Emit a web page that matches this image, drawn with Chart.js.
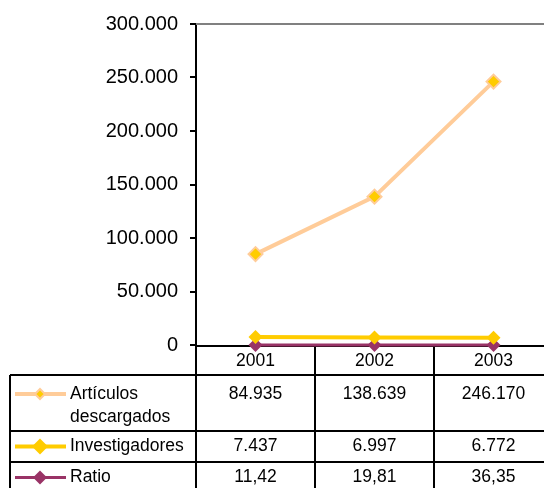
<!DOCTYPE html>
<html>
<head>
<meta charset="utf-8">
<script src="https://cdn.jsdelivr.net/npm/chart.js@4.4.1/dist/chart.umd.min.js"></script>
<style>
  html, body { margin: 0; padding: 0; background: #fff; overflow: hidden; }
</style>
</head>
<body>
<canvas id="chart" width="544" height="488"></canvas>
<script>
// Datos
const categories = ['2001', '2002', '2003'];
const articulos = [84935, 138639, 246170];
const investigadores = [7437, 6997, 6772];
const ratio = [11.42, 19.81, 36.35];
const seriesNames = [['Artículos', 'descargados'], ['Investigadores'], ['Ratio']];
const seriesDecimals = [0, 0, 2];

const FONT = "'Liberation Sans', Arial, sans-serif";

// Formato español: punto para miles, coma para decimales
function fmt(v, dec) {
    const parts = v.toFixed(dec).split('.');
    parts[0] = parts[0].replace(/\B(?=(\d{3})+(?!\d))/g, '.');
    return parts.join(',');
}

function diamond(ctx, x, y, r, fill, stroke, lw) {
    ctx.beginPath();
    ctx.moveTo(x, y - r);
    ctx.lineTo(x + r, y);
    ctx.lineTo(x, y + r);
    ctx.lineTo(x - r, y);
    ctx.closePath();
    ctx.fillStyle = fill;
    ctx.fill();
    if (lw) {
        ctx.lineWidth = lw;
        ctx.strokeStyle = stroke;
        ctx.stroke();
    }
}

// El área de trazado sigue más allá del borde derecho (original recortado)
const extendPlot = {
    id: 'extendPlot',
    afterLayout(chart) {
        const extra = 9;
        const xs = chart.scales.x;
        chart.chartArea.right += extra;
        chart.chartArea.width += extra;
        xs.right += extra;
        xs.width += extra;
        xs.configure();
    }
};

// Tabla de datos tipo Excel bajo el gráfico
const tablePlugin = {
    id: 'dataTable',
    beforeDatasetsDraw(chart) {
        const { ctx, chartArea: { left, right, top, bottom } } = chart;
        const xs = chart.scales.x;
        const n = categories.length;
        const band = (right - left) / n;
        const tableLeft = 10;
        const headerH = 30;
        const rowH = [56, 31, 31];
        const H = chart.height;

        ctx.save();

        // borde superior del área de trazado
        ctx.strokeStyle = '#808080';
        ctx.lineWidth = 2;
        ctx.beginPath();
        ctx.moveTo(left, top);
        ctx.lineTo(right, top);
        ctx.stroke();

        ctx.strokeStyle = '#000';
        ctx.lineWidth = 2;

        // línea del eje X / borde superior de la tabla
        ctx.beginPath();
        ctx.moveTo(left, bottom + 1);
        ctx.lineTo(right, bottom + 1);
        ctx.stroke();

        // verticales de columnas
        for (let i = 0; i <= n; i++) {
            const x = left + i * band;
            ctx.beginPath();
            ctx.moveTo(x, bottom);
            ctx.lineTo(x, H);
            ctx.stroke();
        }

        // horizontales de filas
        let y = bottom + headerH;
        const rowTops = [];
        for (let r = 0; r < rowH.length; r++) {
            rowTops.push(y);
            ctx.beginPath();
            ctx.moveTo(tableLeft, y);
            ctx.lineTo(right, y);
            ctx.stroke();
            y += rowH[r];
        }
        ctx.beginPath();
        ctx.moveTo(tableLeft, bottom + headerH);
        ctx.lineTo(tableLeft, H);
        ctx.stroke();

        ctx.font = '17.5px ' + FONT;
        ctx.fillStyle = '#000';
        ctx.textBaseline = 'middle';

        // cabecera con las categorías
        ctx.textAlign = 'center';
        categories.forEach((c, i) => {
            ctx.fillText(c, xs.getPixelForValue(i), bottom + 16);
        });

        // filas por serie
        chart.data.datasets.forEach((ds, r) => {
            const ty = rowTops[r] + (r === 0 ? 19 : 15.5);

            // clave de leyenda
            ctx.strokeStyle = ds.borderColor;
            ctx.lineWidth = ds.borderWidth;
            ctx.beginPath();
            ctx.moveTo(15, ty);
            ctx.lineTo(66, ty);
            ctx.stroke();
            diamond(ctx, 40, ty, ds.keyRadius, ds.pointBackgroundColor, ds.pointBorderColor, ds.pointBorderWidth);

            ctx.fillStyle = '#000';
            ctx.textAlign = 'left';
            seriesNames[r].forEach((line, k) => ctx.fillText(line, 70, ty + k * 23));

            ctx.textAlign = 'center';
            ds.data.forEach((v, i) => {
                ctx.fillText(fmt(v, seriesDecimals[r]), xs.getPixelForValue(i), ty);
            });
        });

        ctx.restore();
    }
};

new Chart(document.getElementById('chart'), {
    type: 'line',
    data: {
        labels: categories,
        datasets: [
            {
                label: 'Artículos descargados',
                data: articulos,
                borderColor: '#FFCC99',
                borderWidth: 4,
                pointStyle: 'rectRot',
                pointRadius: 7,
                pointBackgroundColor: '#FFCC00',
                pointBorderColor: '#FFCC99',
                pointBorderWidth: 2,
                keyRadius: 5,
                clip: false
            },
            {
                label: 'Investigadores',
                data: investigadores,
                borderColor: '#FFCC00',
                borderWidth: 4,
                pointStyle: 'rectRot',
                pointRadius: 7,
                pointBackgroundColor: '#FFCC00',
                pointBorderColor: '#FFCC00',
                pointBorderWidth: 0,
                keyRadius: 8,
                clip: false
            },
            {
                label: 'Ratio',
                data: ratio,
                borderColor: '#993366',
                borderWidth: 3,
                pointStyle: 'rectRot',
                pointRadius: 7,
                pointBackgroundColor: '#993366',
                pointBorderColor: '#993366',
                pointBorderWidth: 0,
                keyRadius: 7,
                clip: false
            }
        ]
    },
    plugins: [extendPlot, tablePlugin],
    options: {
        responsive: false,
        animation: false,
        layout: { autoPadding: false, padding: { top: 20, bottom: 143, left: 0, right: 0 } },
        plugins: { legend: { display: false }, tooltip: { enabled: false } },
        scales: {
            x: { display: false, offset: true },
            y: {
                min: 0,
                max: 300000,
                afterFit(scale) { scale.width = 196; },
                ticks: {
                    stepSize: 50000,
                    padding: 12,
                    color: '#000',
                    font: { family: FONT, size: 20 },
                    callback: v => fmt(v, 0)
                },
                grid: { drawOnChartArea: false, drawTicks: true, tickLength: 6, color: '#000', lineWidth: 2 },
                border: { display: true, color: '#000', width: 2 }
            }
        }
    }
});
</script>
</body>
</html>
